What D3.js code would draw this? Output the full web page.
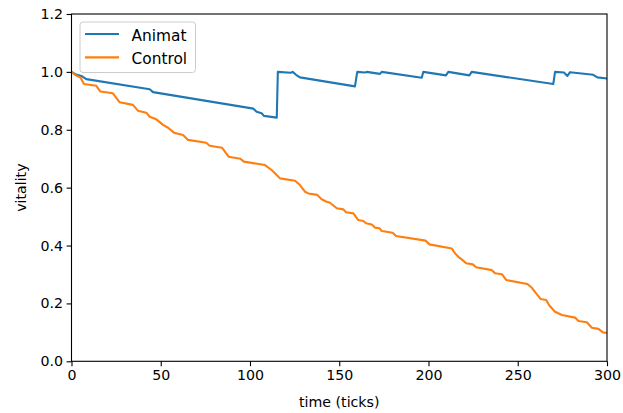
<!DOCTYPE html>
<html><head><meta charset="utf-8">
<script src="https://cdn.jsdelivr.net/npm/d3@7"></script>
<style>body{margin:0;background:#fff}svg{display:block}text{font-family:"DejaVu Sans",sans-serif}</style>
</head><body>
<svg id="c" width="623" height="413"></svg>
<script>
const seriesNames = ["Animat", "Control"];
const seriesColors = ["#1f77b4", "#ff7f0e"];
const xTicks = [0, 50, 100, 150, 200, 250, 300];
const yTicks = [0.0, 0.2, 0.4, 0.6, 0.8, 1.0, 1.2];
const animatT = [0,2.1,5.5,8.3,43.8,45.7,101.9,103.7,106.5,107.8,115,115.6,122.8,123.9,125.8,128,158.8,160.1,164.4,165.4,172.8,173.8,196.2,197.1,209.8,211.1,222.9,224.2,269.9,270.9,275.9,277.8,279.3,292.3,294.6,300];
const animatV = [1.0,0.992,0.986,0.975,0.940,0.930,0.873,0.862,0.857,0.848,0.842,1.0,0.997,1.0,0.990,0.981,0.950,1.0,0.998,1.0,0.993,1.0,0.980,1.0,0.988,1.0,0.988,1.0,0.958,1.0,0.998,0.986,0.999,0.990,0.981,0.977];
const controlT = [0,2.1,5.1,7.0,13.9,16.2,23.2,27,34.4,37.2,41.9,43.8,47.5,51.3,54.1,57.4,62.5,65.3,75.5,77.4,84.3,88.0,94.6,96.5,108.4,112.1,114,116.8,125.2,128,130.8,132.7,137.7,140.1,142.6,144.8,148.6,152.3,153.8,157.9,160.7,163.5,165,168.2,170,172.5,173.8,179.9,181.8,198.3,200.5,213,214.9,216.7,218.6,221.1,224.8,226.7,235.5,237.3,241.1,243.5,255.4,257.9,260.3,262.9,265.9,267.8,270.9,274.7,282.1,284.0,288.7,291.5,295.2,297.7,300];
const controlV = [1.0,0.989,0.980,0.958,0.952,0.932,0.926,0.895,0.886,0.866,0.859,0.845,0.836,0.817,0.807,0.790,0.782,0.765,0.755,0.745,0.738,0.707,0.700,0.690,0.678,0.661,0.650,0.632,0.624,0.609,0.586,0.580,0.575,0.560,0.552,0.548,0.529,0.525,0.515,0.511,0.488,0.485,0.477,0.473,0.462,0.460,0.450,0.444,0.433,0.417,0.404,0.390,0.373,0.361,0.352,0.339,0.335,0.325,0.315,0.304,0.301,0.281,0.267,0.254,0.235,0.215,0.212,0.192,0.171,0.160,0.151,0.139,0.135,0.116,0.112,0.100,0.098];

const L = 71.5, R = 607, T = 14, B = 361.3;
const svg = d3.select("#c");
const x = d3.scaleLinear().domain([0, 300]).range([L, R]);
const y = d3.scaleLinear().domain([0, 1.2]).range([B, T]);
const fs = 14.2, lfs = 15.4;

const series = [
  animatT.map((t, i) => [t, animatV[i]]),
  controlT.map((t, i) => [t, controlV[i]])
];
const line = d3.line().x(d => x(d[0])).y(d => y(d[1]));
svg.append("defs").append("clipPath").attr("id", "clip")
  .append("rect").attr("x", L).attr("y", T).attr("width", R - L).attr("height", B - T);
series.forEach((s, i) => {
  svg.append("path").datum(s).attr("d", line).attr("fill", "none")
    .attr("stroke", seriesColors[i]).attr("stroke-width", 2.1)
    .attr("stroke-linejoin", "round").attr("stroke-linecap", "square")
    .attr("clip-path", "url(#clip)");
});

const xAxis = svg.append("g").attr("transform", `translate(0,${B})`)
  .call(d3.axisBottom(x).tickValues(xTicks).tickSize(4.9).tickPadding(3.5).tickFormat(d3.format("d")));
const yAxis = svg.append("g").attr("transform", `translate(${L},0)`)
  .call(d3.axisLeft(y).tickValues(yTicks).tickSize(4.9).tickPadding(3.5).tickFormat(d3.format(".1f")));
[xAxis, yAxis].forEach(a => {
  a.select(".domain").remove();
  a.selectAll("line").attr("stroke", "#000").attr("stroke-width", 1.1);
  a.selectAll("text").attr("font-size", fs).attr("fill", "#000").attr("font-family", "DejaVu Sans");
});
svg.append("rect").attr("x", L).attr("y", T).attr("width", R - L).attr("height", B - T)
  .attr("fill", "none").attr("stroke", "#000").attr("stroke-width", 1.1);

svg.append("text").attr("x", (L + R) / 2).attr("y", 407).attr("text-anchor", "middle")
  .attr("font-size", fs).text("time (ticks)");
svg.append("text").attr("transform", `translate(26,${(T + B) / 2}) rotate(-90)`)
  .attr("text-anchor", "middle").attr("font-size", fs).text("vitality");

const lg = svg.append("g");
lg.append("rect").attr("x", 80).attr("y", 22).attr("width", 115.5).attr("height", 50.5)
  .attr("rx", 3).attr("fill", "#fff").attr("fill-opacity", 0.8).attr("stroke", "#ccc").attr("stroke-width", 1);
seriesNames.forEach((n, i) => {
  const yy = 34 + i * 23.4;
  lg.append("line").attr("x1", 85).attr("x2", 119).attr("y1", yy).attr("y2", yy)
    .attr("stroke", seriesColors[i]).attr("stroke-width", 2.1);
  lg.append("text").attr("x", 131.5).attr("y", yy + 6.6).attr("font-size", lfs).text(n);
});
</script>
</body></html>
